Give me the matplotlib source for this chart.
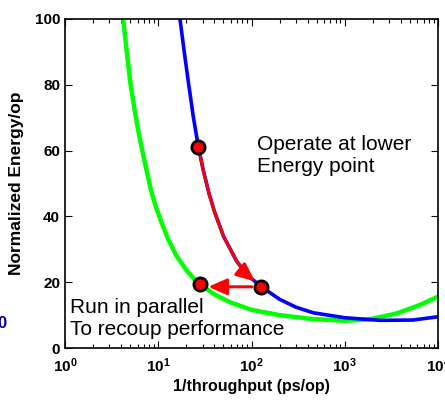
import numpy as np
import matplotlib
matplotlib.use('Agg')
import matplotlib.pyplot as plt

plt.rcParams['font.family'] = ['Liberation Sans', 'DejaVu Sans']
plt.rcParams['font.weight'] = 'bold'
plt.rcParams['mathtext.fontset'] = 'custom'
plt.rcParams['mathtext.rm'] = 'Liberation Sans:bold'
plt.rcParams['mathtext.bf'] = 'Liberation Sans:bold'
plt.rcParams['mathtext.it'] = 'Liberation Sans:bold'

# curve: original design (blue)
blue_x = [17.1, 19, 21, 23.7, 26.9, 30.4, 35, 40, 50, 69, 88, 128,
          200, 300, 460, 1000, 2400, 5400, 10000]
blue_y = [100, 90, 81, 70.5, 61.2, 54, 47, 41.5, 34, 26.5, 22.4, 18.6,
          14.8, 12.4, 10.7, 9.2, 8.4, 8.5, 9.5]

# parallel design (green)
green_x = [4.2, 4.6, 5.0, 5.6, 6.3, 7.1, 8.35, 9.4, 10.9, 12.8, 15.7, 20, 24.7, 28,
           40, 60, 100, 200, 450, 1000, 1850, 3600, 6400, 10000]
green_y = [100, 90, 81, 72, 64, 57, 48, 43, 38, 33, 28, 23.7, 20.7, 19.4,
           16.3, 13.8, 11.6, 10.0, 8.8, 8.3, 8.7, 10.5, 13.1, 15.6]

# operating points: start, parallel, lower energy
op_x = [26.9, 28, 128]
op_y = [61.2, 19.4, 18.6]

fig = plt.figure(figsize=(4.45, 4.01), dpi=100)
ax = fig.add_axes([65/445, 1-348/401, 373/445, 329/401])

ax.plot(green_x, green_y, color=(0, 1, 0), linewidth=3.2)
ax.plot(blue_x, blue_y, color=(0, 0, 1), linewidth=2.6)

# red path along the blue curve down to the lower energy point
bx = np.array(blue_x)
by = np.array(blue_y)
sel = (bx >= op_x[0]) & (bx <= 88)
ax.plot(bx[sel], by[sel], color='red', linewidth=2.2)
ax.annotate('', xy=(op_x[2], op_y[2]), xytext=(bx[sel][-1], by[sel][-1]),
            arrowprops=dict(arrowstyle='-|>,head_length=0.8,head_width=0.35',
                            color='red', lw=2.2, mutation_scale=14,
                            shrinkA=0, shrinkB=6))
ax.annotate('', xy=(op_x[1], op_y[2]), xytext=(op_x[2], op_y[2]),
            arrowprops=dict(arrowstyle='-|>,head_length=0.8,head_width=0.35',
                            color='red', lw=2.2, mutation_scale=14,
                            shrinkA=7, shrinkB=6))

ax.plot(op_x, op_y, linestyle='none', marker='o', markersize=9.5,
        markerfacecolor='red', markeredgecolor='black', markeredgewidth=2,
        zorder=5)

ax.text(0.515, 0.647, 'Operate at lower\nEnergy point', transform=ax.transAxes,
        fontsize=15, fontweight='normal', ha='left', va='top')
ax.text(0.013, 0.152, 'Run in parallel\nTo recoup performance', transform=ax.transAxes,
        fontsize=15, fontweight='normal', ha='left', va='top')

ax.set_xscale('log')
ax.set_xlim(1, 1e4)
ax.set_ylim(0, 100)
ax.set_yticks([0, 20, 40, 60, 80, 100])
ax.tick_params(which='both', direction='in', top=True, right=True, labelsize=11)
ax.tick_params(which='major', length=5, width=0.8)
ax.tick_params(which='minor', length=3, width=0.8)
ax.tick_params(axis='x', pad=6)
ax.set_xlabel('1/throughput (ps/op)', fontsize=11.5, fontweight='bold', labelpad=3)
ax.set_ylabel('Normalized Energy/op', fontsize=12.5, fontweight='bold', labelpad=8)
for s in ax.spines.values():
    s.set_linewidth(1.2)

fig.text(6/445, 1-324/401, '0', color=(0, 0, 0.6), fontsize=12,
         fontweight='bold', ha='right', va='center')

fig.savefig('out.png', dpi=100)
